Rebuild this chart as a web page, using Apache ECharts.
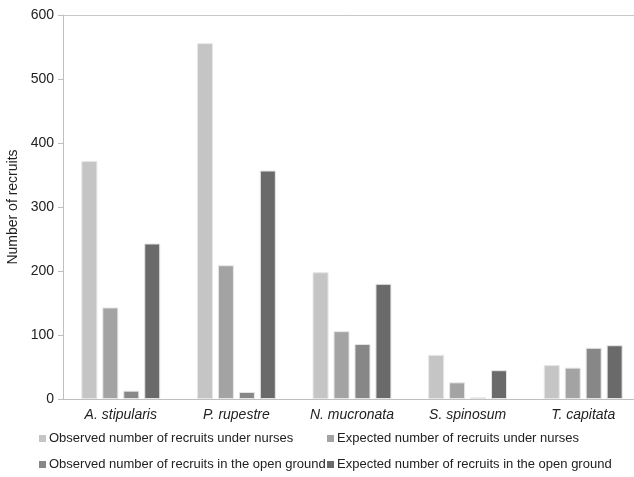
<!DOCTYPE html>
<html>
<head>
<meta charset="utf-8">
<script src="https://cdn.jsdelivr.net/npm/echarts@6/dist/echarts.min.js"></script>
<style>html,body{margin:0;padding:0;background:#fff;overflow:hidden}#c{width:634px;height:477px}</style>
</head>
<body>
<div id="c"></div>
<script>
const categories = ['A. stipularis', 'P. rupestre', 'N. mucronata', 'S. spinosum', 'T. capitata'];
const seriesNames = [
  'Observed number of recruits under nurses',
  'Expected number of recruits under nurses',
  'Observed number of recruits in the open ground',
  'Expected number of recruits in the open ground'
];
const observedUnderNurses = [372, 556, 198, 69, 53];
const expectedUnderNurses = [143, 209, 106, 26, 49];
const observedOpenGround = [13, 11, 86, 2.5, 80];
const expectedOpenGround = [243, 357, 180, 45, 84];
const yTicks = [0, 100, 200, 300, 400, 500, 600];

const colors = ['#c5c5c5', '#a3a3a3', '#878787', '#6a6a6a'];
const values = [observedUnderNurses, expectedUnderNurses, observedOpenGround, expectedOpenGround];
const font = 'Liberation Sans, Arial, sans-serif';

const legendBase = {
  orient: 'vertical', top: 432, padding: 0,
  itemWidth: 7, itemHeight: 7, itemGap: 13,
  icon: 'rect',
  itemStyle: { borderWidth: 0 },
  textStyle: { fontFamily: font, fontSize: 13, color: '#222', padding: [0, 0, 0, -2] }
};

const chart = echarts.init(document.getElementById('c'));
chart.setOption({
  animation: false,
  backgroundColor: '#fff',
  textStyle: { fontFamily: font },
  grid: { left: 63, top: 15, bottom: 78, width: 578, containLabel: false, outerBoundsMode: 'none' },
  legend: [
    Object.assign({}, legendBase, { data: [seriesNames[0], seriesNames[2]], left: 39 }),
    Object.assign({}, legendBase, { data: [seriesNames[1], seriesNames[3]], left: 327 })
  ],
  xAxis: [
    {
      type: 'category', data: categories,
      axisLine: { lineStyle: { color: '#bfbfbf', width: 1 } },
      axisTick: { show: false },
      axisLabel: { fontFamily: font, fontSize: 14, fontStyle: 'italic', color: '#222', margin: 9 }
    },
    {
      type: 'category', data: categories, position: 'top',
      axisLine: { lineStyle: { color: '#c8c8c8', width: 1 } },
      axisTick: { show: false }, axisLabel: { show: false }
    }
  ],
  yAxis: {
    type: 'value', min: 0, max: 600, interval: 100,
    name: 'Number of recruits', nameLocation: 'middle', nameGap: 41,
    nameTextStyle: { fontFamily: font, fontSize: 14, color: '#222' },
    axisLine: { show: true, lineStyle: { color: '#bfbfbf' } },
    axisTick: { show: true, length: 5, lineStyle: { color: '#bfbfbf' } },
    splitLine: { show: false },
    axisLabel: {
      fontFamily: font, fontSize: 14, color: '#222', margin: 9,
      formatter: v => yTicks.includes(v) ? String(v) : ''
    }
  },
  series: values.map((d, i) => ({
    name: seriesNames[i], type: 'bar', data: d,
    barWidth: 16, barGap: '31%',
    itemStyle: { color: colors[i], borderColor: '#e6e6e6', borderWidth: 1 }
  }))
});
</script>
</body>
</html>
